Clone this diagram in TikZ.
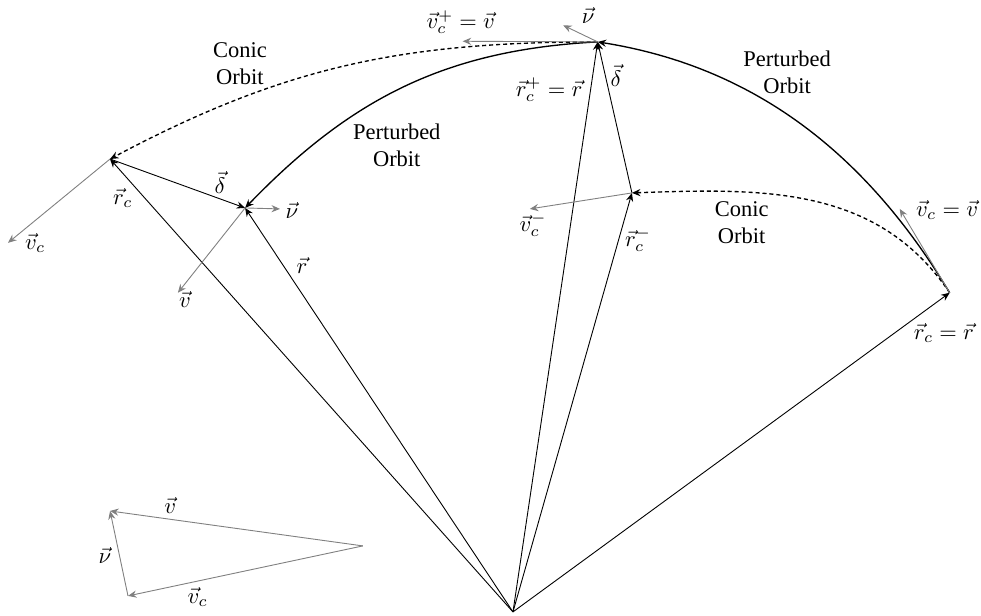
\documentclass[tikz,border=0pt]{standalone}
\usepackage{amsmath}
\usepackage{fontspec}
\setmainfont{Liberation Serif}
\usetikzlibrary{arrows.meta, positioning}

\begin{document}
\begin{tikzpicture}[
			>={Stealth[length=3.8pt, width=3.2pt, inset=1.3pt]},
			posvec/.style={->},
			velvec/.style={->, gray},
			orbit/.style={->, semithick},
			conic/.style={->, semithick, dash pattern=on 1.8pt off 1.3pt},
			lbl/.style={inner sep=1pt, align=center}
			]
			\useasboundingbox (0,0) rectangle (15.33,9.625);
			% Points
			\coordinate (O) at (8.016, 0.0625);
			\coordinate (R) at (14.84, 5.05);
			\coordinate (T) at (9.34, 8.97);
			\coordinate (P) at (3.83, 6.375);
			\coordinate (C) at (1.72, 7.14);
			\coordinate (M) at (9.875, 6.61);
			
			% Orbits
			\draw[orbit] (R) to[out=121, in=-9, looseness=0.95] (T);
			\draw[orbit] (T) to[out=183, in=46] (P);
			\draw[conic] (T) to[out=180, in=28] (C);
			\draw[conic] (R) to[out=124, in=2] (M);
			
			% Position vectors
			\draw[posvec] (O) -- (R);
			\draw[posvec] (O) -- (T);
			\draw[posvec] (O) -- (M);
			\draw[posvec] (O) -- (C);
			\draw[posvec] (O) -- (P);
			\draw[posvec] (C) -- (P);
			\draw[posvec] (M) -- (T);
			
			% Velocity vectors
			\coordinate (vT) at (7.23, 8.98);
			\coordinate (nuT) at (8.80, 9.23);
			\coordinate (nuP) at (4.375, 6.36);
			\coordinate (vP) at (2.78, 5.05);
			\coordinate (vC) at (0.125, 5.83);
			\coordinate (vM) at (8.28, 6.36);
			\coordinate (vR) at (14.06, 6.36);
			\draw[velvec] (T) -- (vT);
			\draw[velvec] (T) -- (nuT);
			\draw[velvec] (P) -- (nuP);
			\draw[velvec] (P) -- (vP);
			\draw[velvec] (C) -- (vC);
			\draw[velvec] (M) -- (vM);
			\draw[velvec] (R) -- (vR);
			
			% Vector triangle
			\coordinate (A) at (5.67, 1.094);
			\coordinate (B) at (1.72, 1.64);
			\coordinate (D) at (2.0, 0.3125);
			\draw[velvec] (A) -- (B);
			\draw[velvec] (A) -- (D);
			\draw[velvec] (D) -- (B);
			
			% Labels
			\node[lbl] (conicA) at (3.75, 8.625) {Conic\\Orbit};
			\node[lbl] (pertA) at (6.2, 7.36) {Perturbed\\Orbit};
			\node[lbl] (pertB) at (12.3, 8.5) {Perturbed\\Orbit};
			\node[lbl] (conicB) at (11.59, 6.14) {Conic\\Orbit};
			\node[lbl] (vTlbl) at (7.20, 9.28) {$\vec{v}_c^+ = \vec{v}$};
			\node[lbl] (nuTlbl) at (9.19, 9.39) {$\vec{\nu}$};
			\node[lbl] (rTlbl) at (8.58, 8.22) {$\vec{r}_c^+ = \vec{r}$};
			\node[lbl] (dTlbl) at (9.625, 8.45) {$\vec{\delta}$};
			\node[lbl] (dPlbl) at (3.44, 6.77) {$\vec{\delta}$};
			\node[lbl] (rClbl) at (1.92, 6.53) {$\vec{r}_c$};
			\node[lbl] (rPlbl) at (4.72, 5.47) {$\vec{r}$};
			\node[lbl] (nuPlbl) at (4.56, 6.34) {$\vec{\nu}$};
			\node[lbl] (vPlbl) at (2.89, 4.94) {$\vec{v}$};
			\node[lbl] (vClbl) at (0.55, 5.83) {$\vec{v}_c$};
			\node[lbl] (vMlbl) at (8.33, 6.11) {$\vec{v}_c^-$};
			\node[lbl] (rMlbl) at (9.97, 5.875) {$\vec{r}_c^-$};
			\node[lbl] (vRlbl) at (14.8, 6.34) {$\vec{v}_c = \vec{v}$};
			\node[lbl] (rRlbl) at (14.75, 4.42) {$\vec{r}_c = \vec{r}$};
			\node[lbl] (vAlbl) at (2.66, 1.73) {$\vec{v}$};
			\node[lbl] (nuDlbl) at (1.64, 0.95) {$\vec{\nu}$};
			\node[lbl] (vDlbl) at (3.09, 0.30) {$\vec{v}_c$};
		\end{tikzpicture}
\end{document}
